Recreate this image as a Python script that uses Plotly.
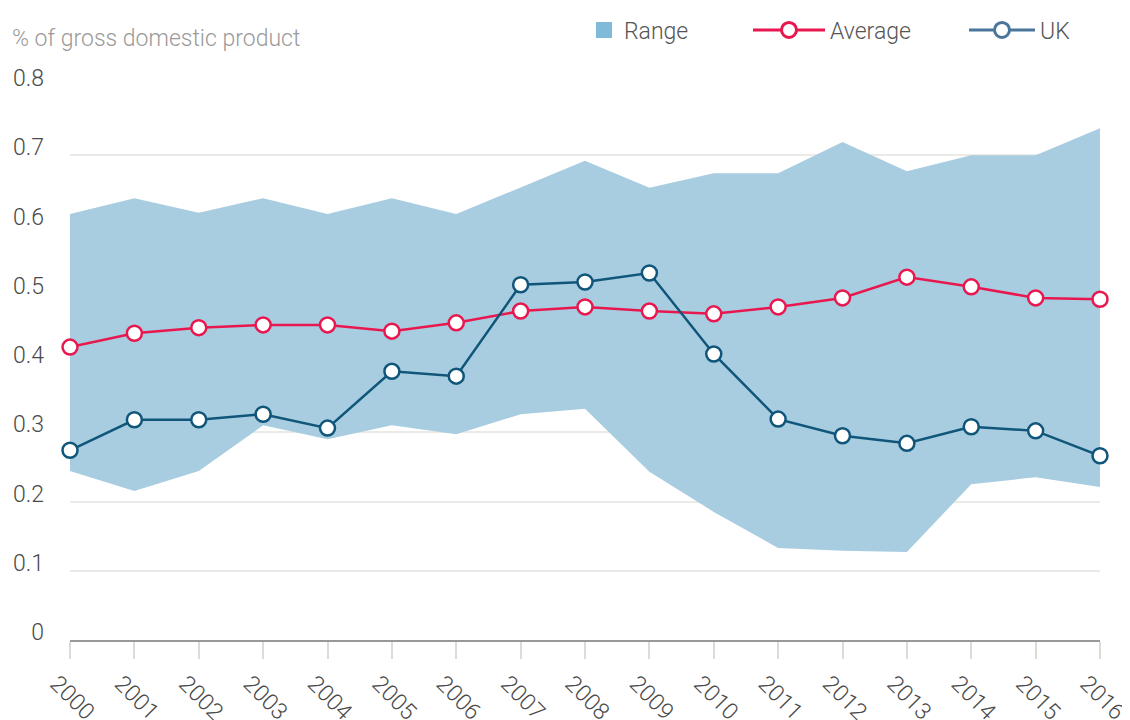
import plotly.graph_objects as go

years = list(range(2000, 2017))
average = [0.423, 0.443, 0.451, 0.455, 0.455, 0.446, 0.458, 0.475, 0.481, 0.475,
           0.471, 0.481, 0.494, 0.524, 0.510, 0.494, 0.492]
uk = [0.274, 0.318, 0.318, 0.326, 0.306, 0.388, 0.381, 0.513, 0.517, 0.530,
      0.413, 0.319, 0.295, 0.284, 0.308, 0.302, 0.266]
range_upper = [0.615, 0.638, 0.617, 0.638, 0.615, 0.638, 0.615, 0.653, 0.692, 0.653,
               0.674, 0.674, 0.719, 0.677, 0.700, 0.700, 0.739]
range_lower = [0.244, 0.215, 0.244, 0.310, 0.290, 0.310, 0.297, 0.326, 0.334, 0.243,
               0.185, 0.133, 0.129, 0.127, 0.225, 0.235, 0.221]
y_ticks = [0, 0.1, 0.2, 0.3, 0.4, 0.5, 0.6, 0.7, 0.8]
y_tick_labels = ["0", "0.1", "0.2", "0.3", "0.4", "0.5", "0.6", "0.7", "0.8"]

RED = "#e8184f"
BLUE = "#10567a"
FILL = "#a8cde0"
FONT = "Roboto"
TXT = dict(family=FONT, size=23, color="#4a4a4a", weight=300)

fig = go.Figure()
fig.add_trace(go.Scatter(x=years, y=range_lower, mode="lines", line=dict(width=0),
                         showlegend=False, hoverinfo="skip"))
fig.add_trace(go.Scatter(x=years, y=range_upper, mode="lines", line=dict(width=0),
                         fill="tonexty", fillcolor=FILL, showlegend=False, hoverinfo="skip"))
fig.add_trace(go.Scatter(x=years, y=average, mode="lines+markers", name="Average",
                         line=dict(color=RED, width=2.5), showlegend=False,
                         marker=dict(size=15, color="white", line=dict(color=RED, width=2.5)),
                         cliponaxis=False))
fig.add_trace(go.Scatter(x=years, y=uk, mode="lines+markers", name="UK",
                         line=dict(color=BLUE, width=2.5), showlegend=False,
                         marker=dict(size=15, color="white", line=dict(color=BLUE, width=2.5)),
                         cliponaxis=False))

# legend-only entries
fig.add_trace(go.Scatter(x=[None], y=[None], mode="markers", name="Range", legend="legend",
                         marker=dict(symbol="square", size=18, color="#7fbad8")))
fig.add_trace(go.Scatter(x=[None], y=[None], mode="lines+markers", name="Average", legend="legend2",
                         line=dict(color=RED, width=3),
                         marker=dict(size=15, color="white", line=dict(color=RED, width=3))))
fig.add_trace(go.Scatter(x=[None], y=[None], mode="lines+markers", name="UK", legend="legend3",
                         line=dict(color="#4a769c", width=3),
                         marker=dict(size=15, color="white", line=dict(color="#4a769c", width=3))))

# page has an 8px body margin; plot area targets (page px): x 70..1100, y 86..640
def px_x(px):
    return (px - 70) / 1030.0

def px_y(py):
    return (640 - py) / 554.0

leg_common = dict(orientation="h", yanchor="middle", xanchor="left",
                  font=dict(family=FONT, size=23, color="#555555", weight=300),
                  bgcolor="rgba(0,0,0,0)")

fig.update_layout(
    width=1122, height=712,
    margin=dict(l=62, r=30, t=78, b=80, autoexpand=False),
    paper_bgcolor="white", plot_bgcolor="white",
    font=TXT,
    showlegend=True,
    legend=dict(x=px_x(584), y=px_y(30), itemwidth=30, **leg_common),
    legend2=dict(x=px_x(748), y=px_y(30), itemwidth=72, **leg_common),
    legend3=dict(x=px_x(964), y=px_y(30), itemwidth=66, **leg_common),
    xaxis=dict(range=[2000, 2016], tickvals=years, ticktext=[str(y) for y in years],
               tickangle=45, showgrid=False, zeroline=False, automargin=False,
               showline=True, linecolor="#999999", linewidth=2,
               ticks="outside", ticklen=17, tickwidth=2, tickcolor="#dedbd4",
               ticklabelshift=-13, ticklabelstandoff=2,
               tickfont=TXT),
    yaxis=dict(range=[0, 0.8], tickvals=y_ticks, ticktext=y_tick_labels,
               showgrid=True, gridcolor="#ebeae6", gridwidth=2, zeroline=False,
               automargin=False,
               ticks="", ticklabelshift=-8, ticklabelstandoff=25,
               tickfont=TXT),
    annotations=[dict(text="% of gross domestic product", xref="paper", yref="paper",
                      x=px_x(10), y=px_y(39), xanchor="left", yanchor="middle",
                      showarrow=False, font=dict(family=FONT, size=23, color="#9a9a9a", weight=300))],
)

fig.write_html("out.html")
